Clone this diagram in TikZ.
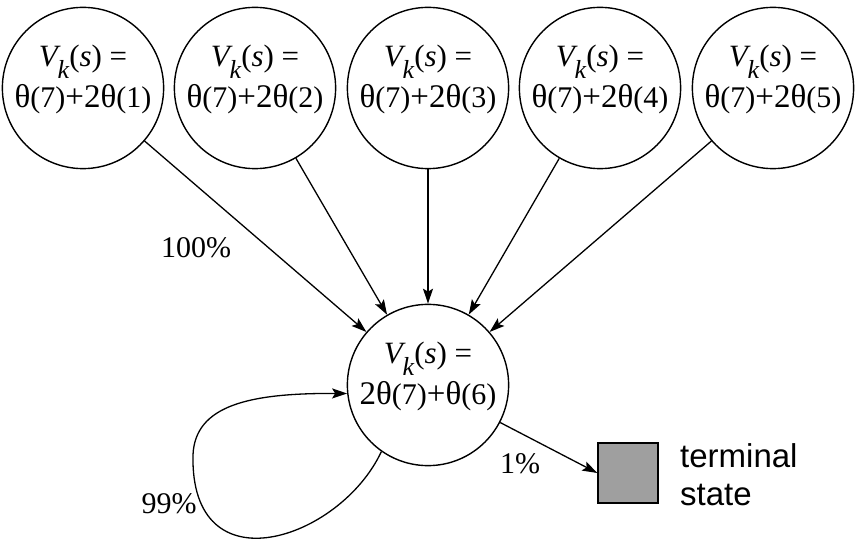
\documentclass[tikz,border=0pt]{standalone}
\usepackage{fontspec}
\setmainfont{Liberation Serif}
\newfontfamily\sansf{Liberation Sans}
\usetikzlibrary{arrows.meta}
\newcommand{\vks}{{\fontsize{31}{41}\selectfont\itshape V}\raisebox{-0.36em}{\fontsize{26}{26}\selectfont\itshape k}{\fontsize{31}{41}\selectfont(\textit{s}) =}}
\newcommand{\pnx}[1]{{\fontsize{30}{30}\selectfont(#1)}}
\newcommand{\thx}{θ}
\newcommand{\dpx}{\rule[-24pt]{0pt}{1pt}}
\begin{document}
\begin{tikzpicture}[x=1pt,y=-1pt,
  state/.style={draw,circle,line width=1.4pt,minimum size=150pt,inner sep=0pt,align=center,
    font=\fontsize{33}{41}\selectfont},
  term/.style={draw,rectangle,line width=1.4pt,fill=gray!75,minimum size=60pt,inner sep=0pt},
  arr/.style={line width=1.3pt,-{Stealth[length=15pt,width=10pt,inset=3pt]}},
  lbl/.style={font=\fontsize{30}{30}\selectfont,anchor=base,inner sep=0pt}]
\path[use as bounding box] (0,0) rectangle (855,556);
\node[state] (s1) at (83,88) {\vks\\\thx\pnx{7}+2\thx\pnx{1}\dpx};
\node[state] (s2) at (255,88) {\vks\\\thx\pnx{7}+2\thx\pnx{2}\dpx};
\node[state] (s3) at (428,88) {\vks\\\thx\pnx{7}+2\thx\pnx{3}\dpx};
\node[state] (s4) at (600,88) {\vks\\\thx\pnx{7}+2\thx\pnx{4}\dpx};
\node[state] (s5) at (773,88) {\vks\\\thx\pnx{7}+2\thx\pnx{5}\dpx};
\node[state] (m) at (428,385) {\vks\\2\thx\pnx{7}+\thx\pnx{6}\dpx};
\node[term] (t) at (628,473) {};
\node[anchor=base west,inner sep=0pt,align=left,font=\sansf\fontsize{33}{38}\selectfont] (tl) at (680,505) {terminal\\state};
\foreach \s in {s1,s2,s3,s4,s5} \draw[arr] (\s) -- (m);
\draw[arr] (m) -- (t.west);
\draw[arr] (m.235) .. controls (340,540) and (190,590) .. (193,455)
  .. controls (195,405) and (250,393) .. (m.186);
\node[lbl] (l1) at (196,258) {100\%};
\node[lbl] (l2) at (169,513) {99\%};
\node[lbl] (l3) at (520,473) {1\%};
\end{tikzpicture}
\end{document}
